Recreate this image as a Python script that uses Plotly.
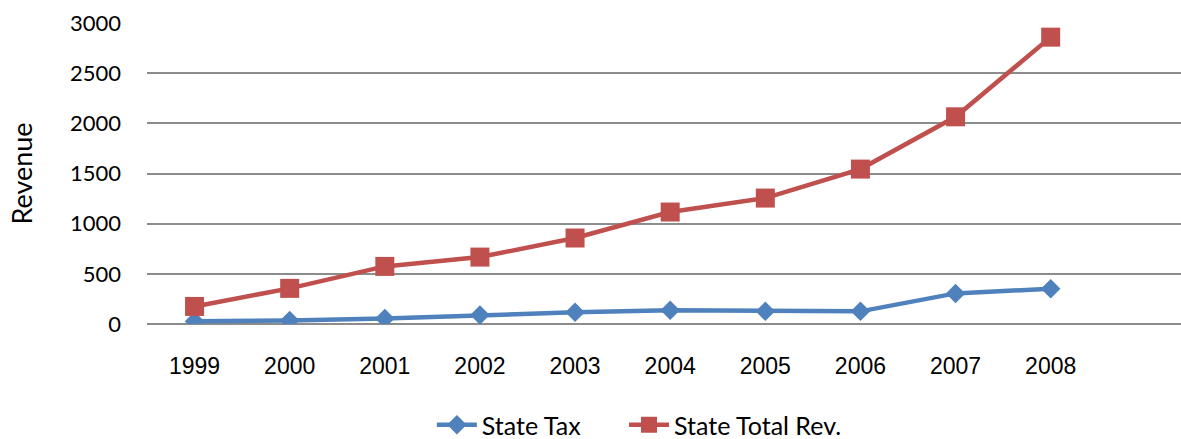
import plotly.graph_objects as go

years = ["1999", "2000", "2001", "2002", "2003", "2004", "2005", "2006", "2007", "2008"]
state_tax = [27, 34, 54, 89, 116, 136, 126, 126, 305, 352]
state_total_rev = [175, 355, 574, 667, 857, 1116, 1255, 1544, 2065, 2859]
y_ticks = [0, 500, 1000, 1500, 2000, 2500, 3000]

calib = "Lato, Open Sans, sans-serif"
gap = "\u00a0" * 6

fig = go.Figure()
fig.add_trace(go.Scatter(
    x=years, y=state_tax, name="State Tax" + gap, mode="lines+markers",
    line=dict(color="#4F81BD", width=4.5),
    marker=dict(symbol="diamond", size=15, color="#4F81BD"),
))
fig.add_trace(go.Scatter(
    x=years, y=state_total_rev, name="State Total Rev.", mode="lines+markers",
    line=dict(color="#C0504D", width=4.5),
    marker=dict(symbol="square", size=19, color="#C0504D"),
))

fig.update_layout(
    width=1181, height=439,
    margin=dict(l=147, r=0, t=22.7, b=114.7),
    paper_bgcolor="white", plot_bgcolor="white",
    showlegend=True,
    legend=dict(orientation="h", x=0.2755, xanchor="left",
                yref="container", y=1 - 425 / 439, yanchor="middle",
                font=dict(family=calib, size=25, color="#000000"),
                itemwidth=40, tracegroupgap=0),
)
fig.update_xaxes(
    type="category", range=[-0.5, 10.37],
    showgrid=False, showline=False, zeroline=False,
    ticks="", ticklabelstandoff=26,
    tickfont=dict(family="Liberation Sans, Arial, sans-serif", size=23, color="#000000"),
)
fig.update_yaxes(
    range=[0, 3000], tickvals=y_ticks,
    showgrid=True, gridcolor="#8C8C8C", gridwidth=2,
    zeroline=True, zerolinecolor="#8C8C8C", zerolinewidth=2,
    showline=False, ticks="", ticklabelstandoff=25,
    tickfont=dict(family=calib, size=22, color="#000000"),
    title=dict(text="Revenue", font=dict(family=calib, size=27, color="#000000"), standoff=29),
)

fig.write_html(
    "out.html",
    config={"displayModeBar": False},
    post_script="document.body.style.margin='0';document.body.style.overflow='hidden';",
)
